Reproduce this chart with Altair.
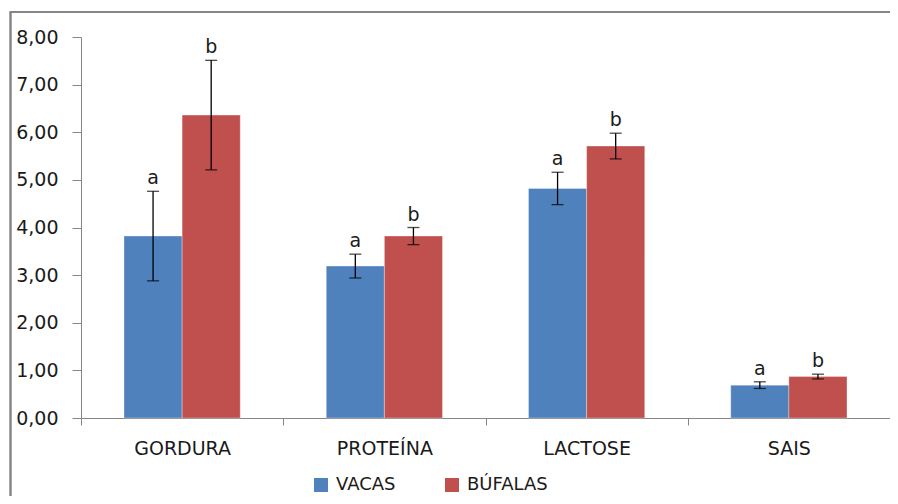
import altair as alt
import pandas as pd

categories = ["GORDURA", "PROTEÍNA", "LACTOSE", "SAIS"]
series = ["VACAS", "BÚFALAS"]
vacas = [3.82, 3.19, 4.82, 0.69]
vacas_err = [0.94, 0.25, 0.34, 0.07]
bufalas = [6.36, 3.82, 5.71, 0.87]
bufalas_err = [1.15, 0.18, 0.27, 0.05]
letters = ["a", "b"]
y_ticks = [0, 1, 2, 3, 4, 5, 6, 7, 8]

rows = []
for i, c in enumerate(categories):
    for s, vals, errs, let in [(series[0], vacas, vacas_err, letters[0]),
                               (series[1], bufalas, bufalas_err, letters[1])]:
        rows.append({"cat": c, "serie": s, "value": vals[i],
                     "lo": vals[i] - errs[i], "hi": vals[i] + errs[i], "letter": let})
df = pd.DataFrame(rows)

FONT = "DejaVu Sans"
AX = "#868686"
TXT = "#1a1a1a"
W, H = 809, 381

x = alt.X("cat:N", sort=categories,
          scale=alt.Scale(paddingInner=0, paddingOuter=0),
          axis=alt.Axis(title=None, labelAngle=0, tickBand="extent", domainColor=AX,
                        tickColor=AX, tickSize=7, labelFontSize=19, labelFont=FONT,
                        labelColor=TXT, labelPadding=14))
xo = alt.XOffset("serie:N", sort=series,
                 scale=alt.Scale(paddingInner=0, paddingOuter=0.74))
y = alt.Y("value:Q", scale=alt.Scale(domain=[0, 8], nice=False, zero=True),
          axis=alt.Axis(title=None, values=y_ticks, grid=False, domainColor=AX,
                        tickColor=AX, tickSize=9, labelFontSize=19, labelFont=FONT,
                        labelColor=TXT, labelPadding=14,
                        labelExpr="replace(format(datum.value, '.2f'), '.', ',')"))

base = alt.Chart(df)

bars = base.mark_bar(stroke="white", strokeOpacity=0.4, strokeWidth=0.8).encode(
    x=x, xOffset=xo, y=y,
    color=alt.Color("serie:N", sort=series,
                    scale=alt.Scale(domain=series, range=["#4F81BD", "#C0504D"]),
                    legend=alt.Legend(title=None, orient="none", direction="horizontal",
                                      legendX=231, legendY=439, symbolType="square",
                                      symbolSize=196, symbolStrokeWidth=0,
                                      labelFontSize=18, labelFont=FONT,
                                      labelColor=TXT, labelOffset=6,
                                      columnPadding=47, padding=0)),
)

xc = alt.X("cat:N", sort=categories)
xoc = alt.XOffset("serie:N", sort=series)
err = base.mark_rule(color="black", strokeWidth=1.3).encode(
    x=xc, xOffset=xoc, y="lo:Q", y2="hi:Q")
cap_hi = base.mark_tick(color="black", thickness=1.3, size=12, orient="horizontal").encode(
    x=xc, xOffset=xoc, y="hi:Q")
cap_lo = base.mark_tick(color="black", thickness=1.3, size=12, orient="horizontal").encode(
    x=xc, xOffset=xoc, y="lo:Q")
labels = base.mark_text(font=FONT, fontSize=19, color=TXT, baseline="alphabetic",
                        dy=-7).encode(x=xc, xOffset=xoc, y="hi:Q", text="letter:N")

one = alt.Data(values=[{"k": 1}])
frame_v = alt.Chart(one).mark_rule(color=AX, strokeWidth=2.5).encode(
    x=alt.value(-70.5), y=alt.value(-25), y2=alt.value(470))
frame_h = alt.Chart(one).mark_rule(color=AX, strokeWidth=2).encode(
    x=alt.value(-71.5), x2=alt.value(W + 2), y=alt.value(-25))

chart = alt.layer(bars, err, cap_hi, cap_lo, labels, frame_v, frame_h).properties(
    width=W, height=H,
    autosize=alt.AutoSizeParams(type="none"),
    padding={"left": 73, "top": 29, "right": 0, "bottom": 78},
).configure_view(stroke=None).configure_tick(bandSize=12)

chart.save("out.html", embed_options={"renderer": "svg", "actions": False})
